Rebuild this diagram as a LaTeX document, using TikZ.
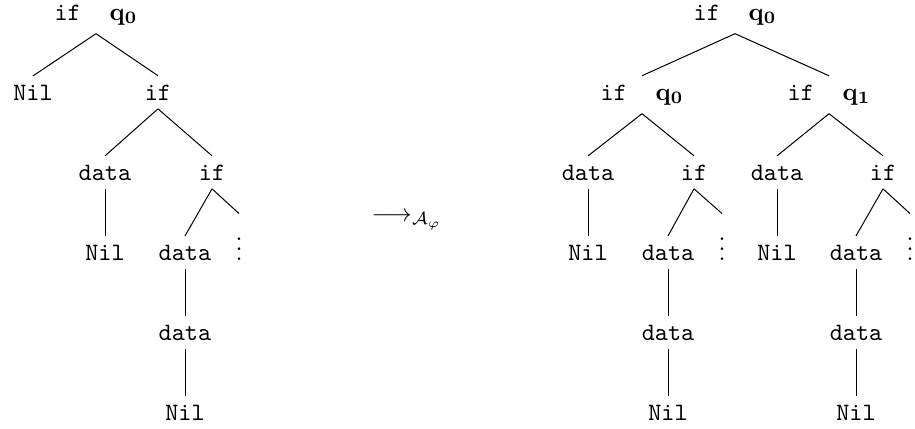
\documentclass[tikz,border=0pt]{standalone}
\begin{document}
\begin{tikzpicture}[x=0.4pt,y=-0.4pt,
  tn/.style={font=\ttfamily, anchor=base},
  lbl/.style={anchor=base}]
\useasboundingbox (0,0) rectangle (915,428);
\newcommand{\iflab}[1]{\texttt{if}\hspace{11.5pt}$\mathbf{q_{#1}}$}
% left tree
\node[lbl] (L) at (96,20) {\iflab{0}};
\node[tn] (L1) at (33,100) {Nil};
\node[tn] (L2) at (158,100) {if};
\node[tn] (L21) at (105,180) {data};
\node[tn] (L22) at (212,180) {if};
\node[tn] (L211) at (105,260) {Nil};
\node[tn] (L221) at (185,260) {data};
\node[lbl] (L222) at (239,260) {$\vdots$};
\node[tn] (L2211) at (185,340) {data};
\node[tn] (L22111) at (185,420) {Nil};
\draw (L.south) -- (L1.north);
\draw (L.south) -- (L2.north);
\draw (L2.south) -- (L21.north);
\draw (L2.south) -- (L22.north);
\draw (L21.south) -- (L211.north);
\draw (L22.south) -- (L221.north);
\draw (L22.south) -- (L222.north);
\draw (L221.south) -- (L2211.north);
\draw (L2211.south) -- (L22111.north);
% arrow
\node[anchor=base west, inner sep=0pt] (arr) at (371,221) {$\longrightarrow_{\mathcal{A}_\varphi}$};
% right tree
\node[lbl] (R) at (735,20) {\iflab{0}};
\node[lbl] (RA) at (642,100) {\iflab{0}};
\node[lbl] (RB) at (829,100) {\iflab{1}};
\node[tn] (RA1) at (588,180) {data};
\node[tn] (RA2) at (694,180) {if};
\node[tn] (RB1) at (777,180) {data};
\node[tn] (RB2) at (883,180) {if};
\node[tn] (RA11) at (588,260) {Nil};
\node[tn] (RA21) at (668,260) {data};
\node[lbl] (RA22) at (722,260) {$\vdots$};
\node[tn] (RB11) at (777,260) {Nil};
\node[tn] (RB21) at (856,260) {data};
\node[lbl] (RB22) at (910,260) {$\vdots$};
\node[tn] (RA211) at (668,340) {data};
\node[tn] (RA2111) at (668,420) {Nil};
\node[tn] (RB211) at (856,340) {data};
\node[tn] (RB2111) at (856,420) {Nil};
\draw (R.south) -- (RA.north);
\draw (R.south) -- (RB.north);
\draw (RA.south) -- (RA1.north);
\draw (RA.south) -- (RA2.north);
\draw (RB.south) -- (RB1.north);
\draw (RB.south) -- (RB2.north);
\draw (RA1.south) -- (RA11.north);
\draw (RA2.south) -- (RA21.north);
\draw (RA2.south) -- (RA22.north);
\draw (RB1.south) -- (RB11.north);
\draw (RB2.south) -- (RB21.north);
\draw (RB2.south) -- (RB22.north);
\draw (RA21.south) -- (RA211.north);
\draw (RA211.south) -- (RA2111.north);
\draw (RB21.south) -- (RB211.north);
\draw (RB211.south) -- (RB2111.north);
\end{tikzpicture}
\end{document}
